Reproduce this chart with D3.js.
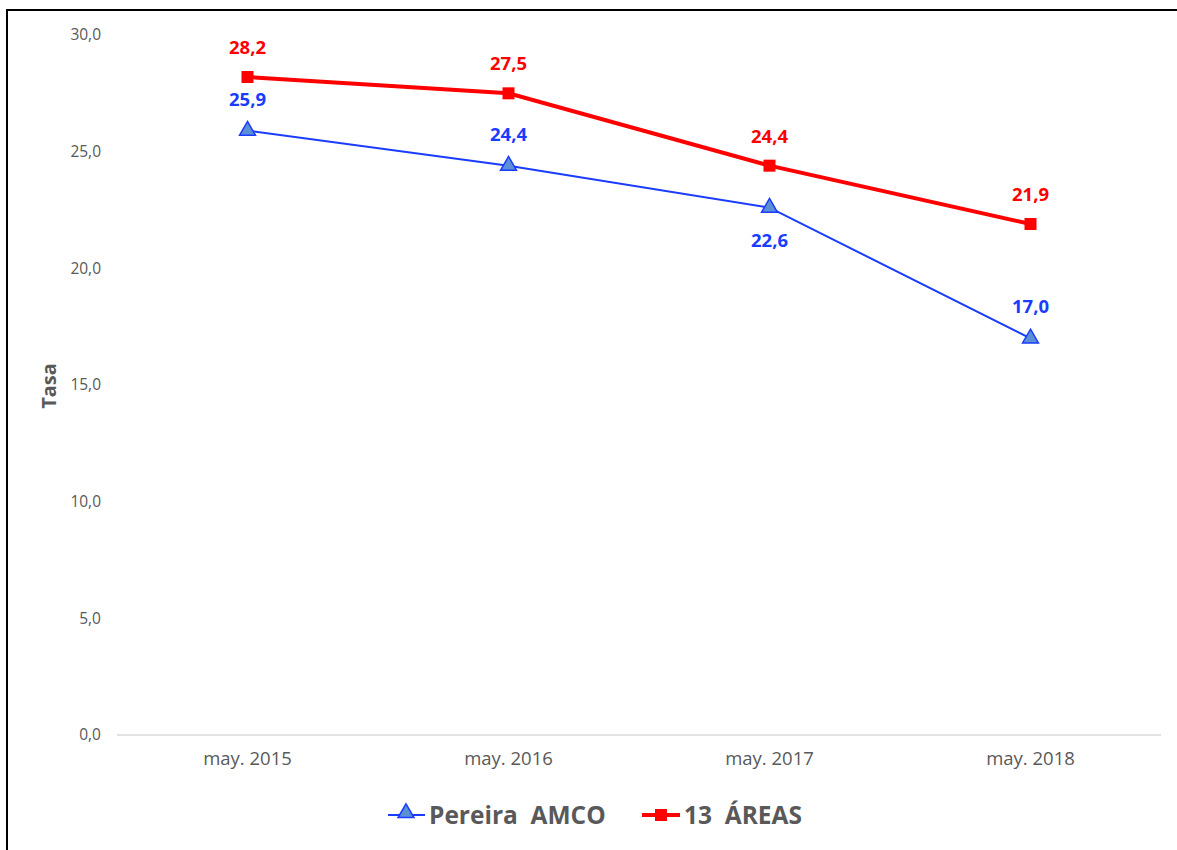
<!DOCTYPE html>
<html><head><meta charset="utf-8">
<script src="https://cdn.jsdelivr.net/npm/d3@7"></script>
<style>body{margin:0;background:#fff;font-family:"Open Sans",sans-serif} text{white-space:pre}</style>
</head><body><svg id="c" width="1177" height="850"></svg>
<script>
const categories = ["may. 2015","may. 2016","may. 2017","may. 2018"];
const pereira = [25.9, 24.4, 22.6, 17.0];
const areas13 = [28.2, 27.5, 24.4, 21.9];
const yTicks = [0,5,10,15,20,25,30];
const seriesNames = ["Pereira  AMCO","13  ÁREAS"];

const FONT = "'Open Sans',sans-serif";
const svg = d3.select("#c").style("font-family",FONT);
svg.append("rect").attr("x",7).attr("y",10).attr("width",1200).attr("height",900)
  .attr("fill","#fff").attr("stroke","#000").attr("stroke-width",2);

const x = d3.scaleBand().domain(categories).range([117,1161]);
const y = d3.scaleLinear().domain([0,30]).range([735,35]);
const cx = d => x(d)+x.bandwidth()/2;
const fmt = v => d3.format(".1f")(v).replace(".",",");

svg.append("line").attr("x1",117).attr("x2",1161).attr("y1",y(0)).attr("y2",y(0))
  .attr("stroke","#d9d9d9").attr("stroke-width",1.5);

const yAxis = svg.append("g").attr("transform","translate(101,0)")
  .call(d3.axisLeft(y).tickValues(yTicks).tickFormat(fmt).tickSize(0));
yAxis.select(".domain").remove();
yAxis.selectAll("text").attr("fill","#595959").style("font-size","15.5px").style("font-family",FONT).attr("x",0);

const xAxis = svg.append("g").attr("transform",`translate(0,${y(0)})`)
  .call(d3.axisBottom(x).tickSize(0));
xAxis.select(".domain").remove();
xAxis.selectAll("text").attr("fill","#595959").style("font-size","18.5px").style("font-family",FONT).attr("dy","1.45em");

svg.append("text").attr("transform","translate(56,386) rotate(-90)").attr("text-anchor","middle")
  .attr("fill","#595959").style("font-size","20px").style("font-weight","bold").text("Tasa");

const line = d3.line().x((d,i)=>cx(categories[i])).y(d=>y(d));
const blue = "#1a3cff", red = "#ff0000";

svg.append("path").datum(pereira).attr("d",line).attr("fill","none").attr("stroke",blue).attr("stroke-width",2);
svg.append("path").datum(areas13).attr("d",line).attr("fill","none").attr("stroke",red).attr("stroke-width",4);

const tri = d3.symbol().type(d3.symbolTriangle).size(110);
svg.selectAll(".tri").data(pereira).enter().append("path")
  .attr("transform",(d,i)=>`translate(${cx(categories[i])},${y(d)})`)
  .attr("d",tri).attr("fill","#5b8fd6").attr("stroke",blue).attr("stroke-width",1.5);
svg.selectAll(".sq").data(areas13).enter().append("rect")
  .attr("x",(d,i)=>cx(categories[i])-6).attr("y",d=>y(d)-6).attr("width",12).attr("height",12).attr("fill",red);

svg.selectAll(".lb").data(pereira).enter().append("text")
  .attr("x",(d,i)=>cx(categories[i])).attr("y",(d,i)=> i===2 ? y(d)+39 : y(d)-25)
  .attr("text-anchor","middle").attr("fill",blue).style("font-size","18.5px").style("font-weight","bold").text(fmt);
svg.selectAll(".lr").data(areas13).enter().append("text")
  .attr("x",(d,i)=>cx(categories[i])).attr("y",d=>y(d)-23)
  .attr("text-anchor","middle").attr("fill",red).style("font-size","18.5px").style("font-weight","bold").text(fmt);

const lg = svg.append("g");
lg.append("line").attr("x1",388).attr("x2",425).attr("y1",815).attr("y2",815).attr("stroke",blue).attr("stroke-width",2);
lg.append("path").attr("transform","translate(406,813)").attr("d",tri).attr("fill","#5b8fd6").attr("stroke",blue).attr("stroke-width",1.5);
lg.append("text").attr("x",429).attr("y",824).attr("fill","#595959").style("font-size","24.5px").style("font-weight","bold").text(seriesNames[0]);
lg.append("line").attr("x1",642).attr("x2",680).attr("y1",815).attr("y2",815).attr("stroke",red).attr("stroke-width",4);
lg.append("rect").attr("x",655).attr("y",809).attr("width",12).attr("height",12).attr("fill",red);
lg.append("text").attr("x",684).attr("y",824).attr("fill","#595959").style("font-size","24.5px").style("font-weight","bold").text(seriesNames[1]);
</script></body></html>
